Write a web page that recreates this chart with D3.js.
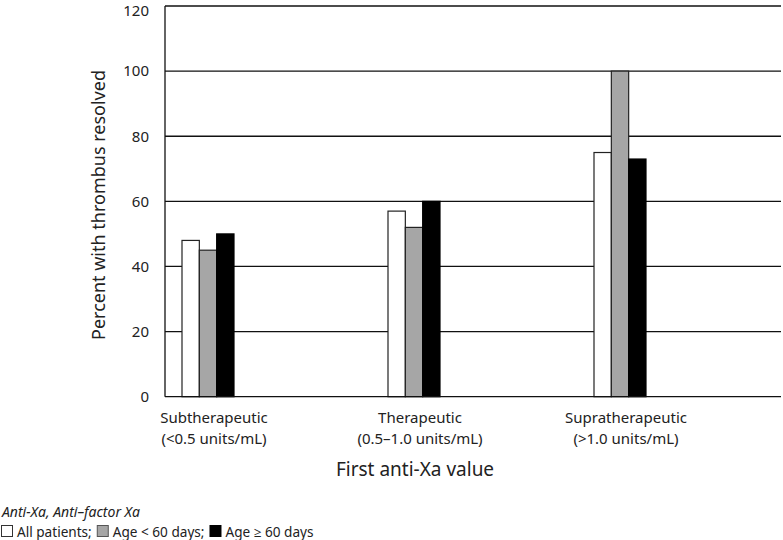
<!DOCTYPE html>
<html><head><meta charset="utf-8">
<script src="https://cdn.jsdelivr.net/npm/d3@7"></script>
<style>
body{margin:0;background:#fff;}
text{font-family:"Noto Sans","Open Sans",sans-serif;fill:#222;}
</style></head>
<body><svg id="c" width="783" height="540"></svg>
<script>
const categories = ["Subtherapeutic", "Therapeutic", "Supratherapeutic"];
const categorySub = ["(<0.5 units/mL)", "(0.5\u20131.0 units/mL)", "(>1.0 units/mL)"];
const seriesNames = ["All patients", "Age < 60 days", "Age \u2265 60 days"];
const allPatients = [48, 57, 75];
const ageUnder60 = [45, 52, 100];
const ageOver60 = [50, 60, 73];
const yTicks = [0, 20, 40, 60, 80, 100, 120];
const colors = ["#ffffff", "#a6a6a6", "#000000"];

(function(){
const seriesVals = [allPatients, ageUnder60, ageOver60];
const svg = d3.select("#c");
const pLeft = 165, pRight = 781, pTop = 6, pBottom = 396.7;

const y = d3.scaleLinear().domain([0, 120]).range([pBottom, pTop]);
const x = d3.scalePoint().domain(categories).range([208, 620]);
const xs = d3.scaleBand().domain(seriesNames).range([-26, 26]).padding(0);

// grid
svg.append("g").selectAll("line").data(yTicks.filter(d => d > 0)).join("line")
  .attr("x1", pLeft).attr("x2", pRight)
  .attr("y1", d => y(d)).attr("y2", d => y(d))
  .attr("stroke", "#111").attr("stroke-width", 1.3);

// bars
const g = svg.append("g");
categories.forEach((c, ci) => {
  seriesNames.forEach((s, si) => {
    const v = seriesVals[si][ci];
    g.append("rect")
      .attr("x", x(c) + xs(s))
      .attr("y", y(v))
      .attr("width", xs.bandwidth())
      .attr("height", y(0) - y(v))
      .attr("fill", colors[si])
      .attr("stroke", si === 2 ? "#000" : "#222")
      .attr("stroke-width", 1.2);
  });
});

// axes
const yAxis = d3.axisLeft(y).tickValues(yTicks).tickSize(0).tickPadding(16);
const ya = svg.append("g").attr("transform", `translate(${pLeft},0)`).call(yAxis);
ya.select(".domain").remove();
ya.selectAll("text").style("font-size", "15px").style("font-family", "'Noto Sans', sans-serif").attr("fill", "#222");
ya.selectAll(".tick").filter(d => d === 120).select("text").attr("dy", "0.6em");
svg.append("line").attr("x1", pLeft).attr("x2", pLeft).attr("y1", pTop).attr("y2", pBottom).attr("stroke", "#111").attr("stroke-width", 1.3);
svg.append("line").attr("x1", pLeft).attr("x2", pRight).attr("y1", pBottom).attr("y2", pBottom).attr("stroke", "#111").attr("stroke-width", 1.3);

// x labels
const xl = svg.append("g");
categories.forEach((c, i) => {
  const t = xl.append("text").attr("text-anchor", "middle").style("font-size", "15px");
  t.append("tspan").attr("x", x(c) + 6).attr("y", 423).text(c);
  t.append("tspan").attr("x", x(c) + 6).attr("y", 444).text(categorySub[i]);
});

svg.append("text").attr("x", 415).attr("y", 476).attr("text-anchor", "middle")
  .style("font-size", "19px").text("First anti-Xa value");

svg.append("text").attr("transform", `translate(105,205) rotate(-90)`)
  .attr("text-anchor", "middle").style("font-size", "18px").text("Percent with thrombus resolved");

// footer
svg.append("text").attr("x", 2).attr("y", 517).style("font-size", "14px").style("font-style", "italic").text("Anti-Xa, Anti\u2013factor Xa");

const leg = svg.append("g");
const legLabels = ["All patients;", "Age < 60 days;", "Age \u2265 60 days"];
let lx = 1;
seriesNames.forEach((s, i) => {
  leg.append("rect").attr("x", lx + 0.5).attr("y", 525.5).attr("width", 11).attr("height", 11)
    .attr("fill", colors[i]).attr("stroke", i === 0 ? "#333" : (i === 1 ? "#555" : "#000")).attr("stroke-width", 1);
  const t = leg.append("text").attr("x", lx + 16).attr("y", 536.5).style("font-size", "13.6px").text(legLabels[i]);
  lx = lx + 16 + t.node().getComputedTextLength() + 5;
});
})();
</script></body></html>
